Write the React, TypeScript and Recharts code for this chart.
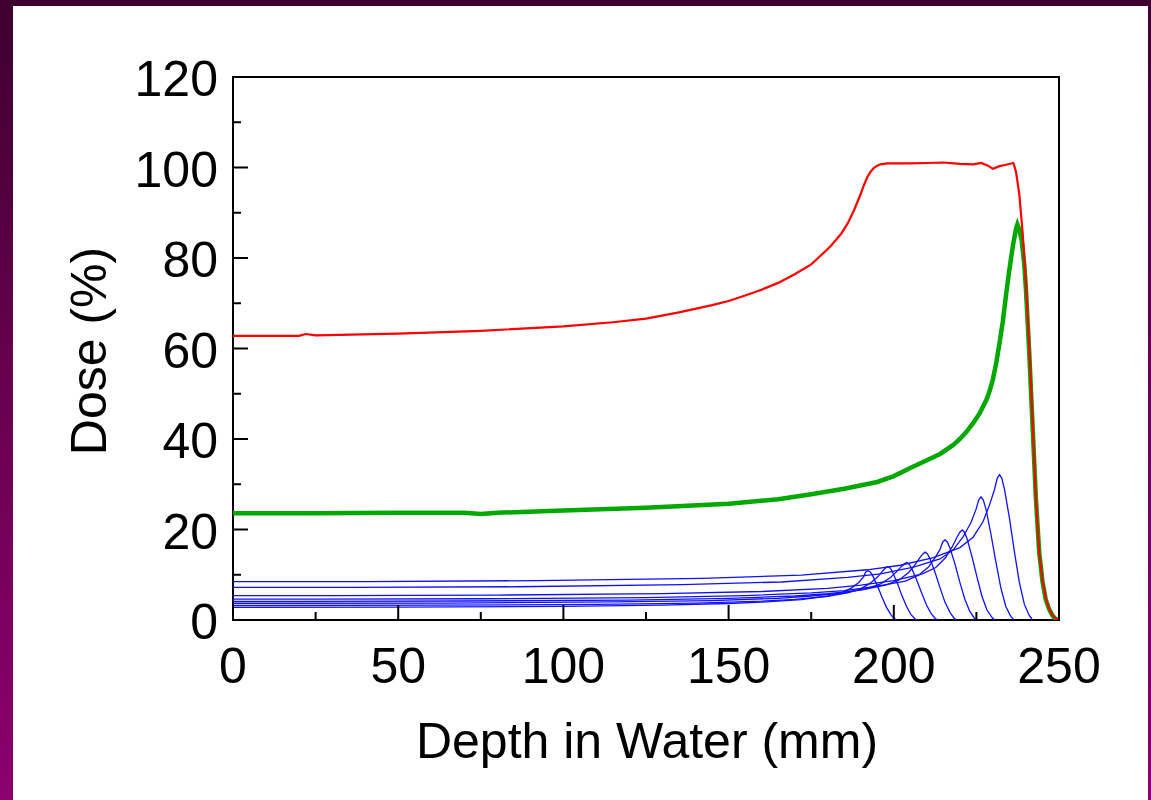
import React from 'react';
import { LineChart, Line, XAxis, YAxis, ReferenceArea } from 'recharts';

// ---- axis ticks ----
const xTicks = [0, 25, 50, 75, 100, 125, 150, 175, 200, 225, 250];
const xLabelTicks = [0, 50, 100, 150, 200, 250];
const yTicks = [0, 10, 20, 30, 40, 50, 60, 70, 80, 90, 100, 110, 120];
const yLabelTicks = [0, 20, 40, 60, 80, 100, 120];

// ---- SOBP (red) ----
const redDepth = [0, 10, 20, 22, 25, 50, 75, 100, 115, 125, 135, 145, 150, 155, 160, 165, 170, 175, 178, 181, 184, 186, 188, 190, 191, 192, 193, 194, 195, 196, 198, 200, 205, 210, 215, 220, 224, 226.5, 228.5, 230, 232, 234, 236.2, 237, 238, 239, 240, 241, 242, 243, 244, 245, 246, 247, 248, 249, 250];
const redDose = [62.8, 62.8, 62.8, 63.2, 62.9, 63.3, 63.9, 64.9, 65.8, 66.6, 68.0, 69.6, 70.5, 71.7, 73.0, 74.5, 76.4, 78.6, 80.6, 82.7, 85.3, 87.6, 90.6, 94.2, 96.2, 97.9, 99.1, 99.9, 100.4, 100.7, 100.9, 100.9, 100.9, 101.0, 101.1, 100.8, 100.7, 101.0, 100.4, 99.7, 100.3, 100.6, 101.0, 99.0, 94.0, 85.5, 74.4, 60.4, 44.0, 27.0, 15.0, 8.8, 4.8, 2.5, 1.1, 0.3, 0];

// ---- deepest pristine peak (green) ----
const greenDepth = [0, 25, 50, 70, 75, 80, 100, 125, 150, 165, 175, 185, 195, 200, 205, 210, 214, 218, 220, 222, 224, 226, 228, 229, 230, 231, 232, 233, 234, 235, 236, 237, 237.4, 238, 238.7, 239.5, 240, 241, 242, 243, 244, 245, 246, 247, 248, 249, 250];
const greenDose = [23.6, 23.6, 23.7, 23.7, 23.4, 23.7, 24.2, 24.8, 25.7, 26.7, 27.8, 29.0, 30.5, 31.8, 33.6, 35.3, 36.7, 38.7, 40.0, 41.6, 43.5, 45.7, 48.6, 50.6, 53.2, 56.8, 61.2, 66.0, 72.0, 77.5, 82.5, 86.5, 87.4, 86.2, 84.0, 78.5, 73.0, 59.0, 43.0, 27.0, 15.0, 8.5, 4.5, 2.4, 1.0, 0.2, 0];

// ---- weighted pristine peaks (blue) ----
const blue1Depth = [0, 40, 92, 142, 172, 192, 202, 212, 220, 224, 227, 229, 230.5, 231.3, 232, 232.7, 233.5, 235, 236.5, 238, 239.5, 241, 242];
const blue1Dose = [8.5, 8.5, 8.7, 9.2, 9.9, 11.1, 12.1, 13.8, 16.0, 18.3, 21.7, 25.5, 28.9, 31.3, 32.1, 31.3, 28.9, 22.5, 15.1, 8.3, 3.5, 1.0, 0];
const blue2Depth = [0, 36, 86, 136, 166, 186, 196, 206, 214, 218, 221, 223.4, 224.9, 225.7, 226.4, 227.1, 227.9, 229.4, 230.9, 232.4, 233.9, 235.4, 236.4];
const blue2Dose = [7.2, 7.2, 7.35, 7.8, 8.4, 9.4, 10.2, 11.7, 13.5, 15.5, 18.4, 21.6, 24.5, 26.5, 27.2, 26.5, 24.5, 19.0, 12.8, 7.1, 3.0, 0.8, 0];
const blue3Depth = [0, 30, 80, 130, 160, 180, 190, 200, 208.7, 212.7, 215.7, 217.7, 219.2, 220.0, 220.7, 221.4, 222.2, 223.7, 225.2, 226.7, 228.2, 229.7, 230.5];
const blue3Dose = [5.4, 5.4, 5.5, 5.85, 6.3, 7.0, 7.7, 8.7, 10.2, 11.6, 13.8, 16.2, 18.4, 19.4, 19.9, 19.4, 17.9, 13.9, 9.4, 5.2, 2.2, 0.6, 0];
const blue4Depth = [0, 25, 75, 125, 155, 175, 185, 195, 203.5, 207.5, 210.5, 212.5, 214, 214.8, 215.5, 216.2, 217, 218.5, 220, 221.5, 223, 224.3, 225];
const blue4Dose = [4.6, 4.6, 4.7, 4.95, 5.4, 6.0, 6.5, 7.5, 8.6, 9.9, 11.7, 13.8, 15.6, 17.25, 17.7, 17.25, 15.9, 12.4, 8.3, 4.6, 1.9, 0.5, 0];
const blue5Depth = [0, 20, 70, 120, 150, 170, 180, 190, 197.5, 201.5, 204.5, 206.5, 208, 208.8, 209.5, 210.2, 211, 212.5, 214, 215.5, 217, 218.2, 219];
const blue5Dose = [4.1, 4.1, 4.2, 4.4, 4.8, 5.3, 5.8, 6.6, 7.7, 8.8, 10.5, 12.3, 13.9, 14.6, 15.0, 14.6, 13.5, 10.5, 7.1, 3.9, 1.7, 0.45, 0];
const blue6Depth = [0, 15, 65, 115, 145, 165, 175, 185, 192, 196, 199, 201, 202.4, 203.2, 203.9, 204.6, 205.4, 206.9, 208.4, 209.9, 211.3, 212.5, 213.2];
const blue6Dose = [3.7, 3.7, 3.75, 4.0, 4.3, 4.8, 5.3, 6.0, 7.0, 8.0, 9.4, 10.8, 11.9, 12.4, 12.7, 12.4, 11.4, 8.9, 6.0, 3.3, 1.4, 0.4, 0];
const blue7Depth = [0, 10, 60, 110, 140, 160, 170, 180, 186, 190, 193, 195.2, 196.7, 197.5, 198.2, 198.9, 199.6, 201, 202.4, 203.8, 205.1, 206.3, 207];
const blue7Dose = [3.2, 3.2, 3.27, 3.45, 3.75, 4.15, 4.55, 5.2, 6.0, 6.9, 8.2, 9.6, 10.9, 11.5, 11.8, 11.5, 10.6, 8.3, 5.5, 3.1, 1.3, 0.35, 0];
const blue8Depth = [0, 50, 100, 130, 150, 160, 172, 180, 184, 187, 189.4, 190.9, 191.5, 192.2, 192.9, 193.6, 195, 196.4, 197.8, 199.1, 200.2, 201];
const blue8Dose = [2.8, 2.85, 3.0, 3.3, 3.65, 3.95, 4.5, 5.3, 6.0, 7.0, 8.3, 9.6, 10.6, 10.9, 10.6, 9.8, 7.6, 5.1, 2.8, 1.2, 0.3, 0];

const rows = (d: number[], v: number[]) => d.map((x, i) => ({ x, y: v[i] }));

const blueSeries = [
  rows(blue8Depth, blue8Dose),
  rows(blue7Depth, blue7Dose),
  rows(blue6Depth, blue6Dose),
  rows(blue5Depth, blue5Dose),
  rows(blue4Depth, blue4Dose),
  rows(blue3Depth, blue3Dose),
  rows(blue2Depth, blue2Dose),
  rows(blue1Depth, blue1Dose),
];
const greenData = rows(greenDepth, greenDose);
const redData = rows(redDepth, redDose);

const FONT = '"Liberation Sans", Arial, Helvetica, sans-serif';

const YTick = (props: any) => {
  const { x, y, payload } = props;
  const major = yLabelTicks.includes(payload.value);
  return (
    <g>
      <line x1={x} x2={x + (major ? 15 : 8)} y1={y} y2={y} stroke="#000" strokeWidth={2} />
      {major && (
        <text x={x - 15} y={y + 19} textAnchor="end" fontSize={50} fontFamily={FONT} fill="#000">
          {payload.value}
        </text>
      )}
    </g>
  );
};

const XTick = (props: any) => {
  const { x, y, payload } = props;
  const major = xLabelTicks.includes(payload.value);
  return (
    <g>
      <line x1={x} x2={x} y1={y} y2={y - (major ? 15 : 8)} stroke="#000" strokeWidth={2} />
      {major && (
        <text x={x} y={y + 63} textAnchor="middle" fontSize={50} fontFamily={FONT} fill="#000">
          {payload.value}
        </text>
      )}
    </g>
  );
};

export default function App() {
  return (
    <div
      style={{
        position: 'absolute',
        left: 0,
        top: 0,
        width: 1151,
        height: 800,
        background: 'linear-gradient(to bottom, #3e002e 0%, #62004a 40%, #8c006e 100%)',
        overflow: 'hidden',
      }}
    >
      <div style={{ position: 'absolute', left: 13, top: 6, width: 1135, height: 794, background: '#fff' }} />
      <div style={{ position: 'absolute', left: 0, top: 0 }}>
        <LineChart
          width={1151}
          height={800}
          margin={{ top: 77, left: 232, right: 92, bottom: 179 }}
        >
          <XAxis
            type="number"
            dataKey="x"
            domain={[0, 250]}
            ticks={xTicks}
            allowDataOverflow
            height={1}
            tickSize={0}
            tickMargin={0}
            axisLine={false}
            tickLine={false}
            tick={<XTick />}
            interval={0}
          />
          <YAxis
            type="number"
            dataKey="y"
            domain={[0, 120]}
            ticks={yTicks}
            allowDataOverflow
            width={1}
            tickSize={0}
            tickMargin={0}
            axisLine={false}
            tickLine={false}
            tick={<YTick />}
            interval={0}
          />
          {blueSeries.map((d, i) => (
            <Line
              key={'b' + i}
              data={d}
              dataKey="y"
              type="linear"
              stroke="#1010ff"
              strokeWidth={1.3}
              dot={false}
              isAnimationActive={false}
            />
          ))}
          <Line data={greenData} dataKey="y" type="linear" stroke="#00a800" strokeWidth={4.5} dot={false} isAnimationActive={false} />
          <Line data={redData} dataKey="y" type="linear" stroke="#ff0000" strokeWidth={2.2} dot={false} isAnimationActive={false} />
          <ReferenceArea x1={0} x2={250} y1={0} y2={120} fill="none" fillOpacity={0} stroke="#000" strokeWidth={2} ifOverflow="visible" />
        </LineChart>
      </div>
      <svg width={1151} height={800} style={{ position: 'absolute', left: 0, top: 0, pointerEvents: 'none' }}>
        <text x={647} y={758} textAnchor="middle" fontSize={50} fontFamily={FONT} fill="#000">
          Depth in Water (mm)
        </text>
        <text
          x={0}
          y={0}
          transform="translate(106, 351) rotate(-90)"
          textAnchor="middle"
          fontSize={50}
          fontFamily={FONT}
          fill="#000"
        >
          Dose (%)
        </text>
      </svg>
    </div>
  );
}
